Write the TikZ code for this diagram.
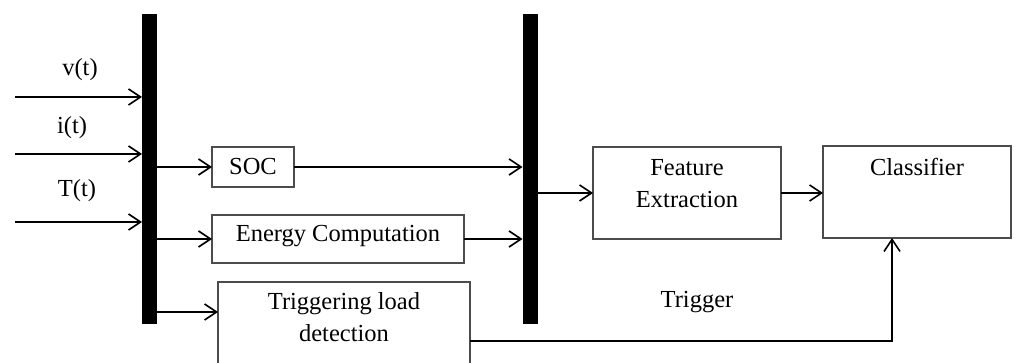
\documentclass[tikz,border=0pt]{standalone}
\usepackage{fontspec}
\setmainfont{Liberation Serif}
\usetikzlibrary{arrows.meta}
\begin{document}
\begin{tikzpicture}[x=1pt,y=-1pt,
  every node/.style={inner sep=0pt, outer sep=0pt},
  txt/.style={font=\fontsize{24.5}{32}\selectfont, text=black, align=center},
  bar/.style={fill=black, draw=none, minimum width=15pt, minimum height=310pt},
  blk/.style={draw=black!70, line width=1.3pt, fill=none},
  arr/.style={line width=1.6pt, -{Straight Barb[length=12pt,width=16pt,line width=1.6pt]}},
  ln/.style={line width=1.6pt}]
\useasboundingbox (0,0) rectangle (1014,363);
% bars
\node[bar] (bar1) at (149.5,169) {};
\node[bar] (bar2) at (530,169) {};
% boxes
\node[blk, minimum width=82pt, minimum height=40pt] (soc) at (253,167) {};
\node[txt] (soct) at (253,167) {SOC};
\node[blk, minimum width=252pt, minimum height=48pt] (ene) at (338,239) {};
\node[txt] (enet) at (338,236) {Energy Computation};
\node[blk, minimum width=252pt, minimum height=120pt] (trig) at (344,342) {};
\node[txt] (trigt) at (344,317) {Triggering load\\detection};
\node[blk, minimum width=188pt, minimum height=92pt] (feat) at (687,193) {};
\node[txt] (featt) at (687,184) {Feature\\Extraction};
\node[blk, minimum width=188pt, minimum height=92pt] (cls) at (917,192) {};
\node[txt] (clst) at (917,167) {Classifier};
% labels
\node[txt] (vl) at (80,70) {v(t)};
\node[txt] (il) at (72,128) {i(t)};
\node[txt] (tl) at (77,191) {T(t)};
\node[txt] (trl) at (697,302) {Trigger};
% inputs
\coordinate (vin) at (15,97);
\coordinate (iin) at (15,154);
\coordinate (tin) at (15,222);
\draw[arr] (vin) -- (vin -| bar1.west);
\draw[arr] (iin) -- (iin -| bar1.west);
\draw[arr] (tin) -- (tin -| bar1.west);
% bar1 outputs
\draw[arr] (soc.west -| bar1.east) -- (soc.west);
\draw[arr] (ene.west -| bar1.east) -- (ene.west);
\coordinate (tr) at (0,312);
\draw[arr] (tr -| bar1.east) -- (tr -| trig.west);
% to bar2
\draw[arr] (soc.east) -- (soc.east -| bar2.west);
\draw[arr] (ene.east) -- (ene.east -| bar2.west);
% bar2 to feature
\draw[arr] (feat.west -| bar2.east) -- (feat.west);
\draw[arr] (feat.east) -- (feat.east -| cls.west);
% trigger
\coordinate (tp) at (892,341);
\draw[arr] (tp -| trig.east) -- (tp) -- (tp |- cls.south);
\end{tikzpicture}
\end{document}
